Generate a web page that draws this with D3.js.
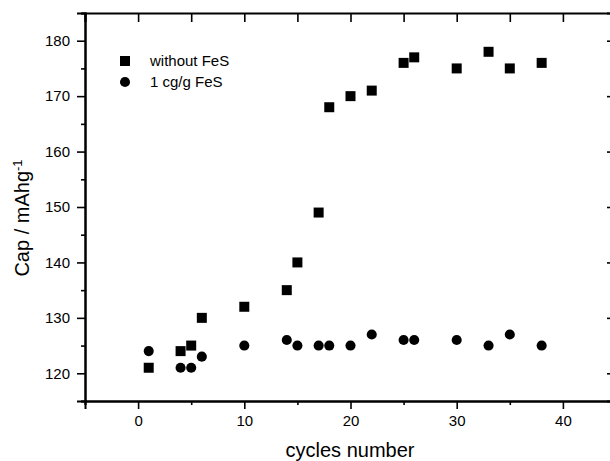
<!DOCTYPE html>
<html>
<head>
<meta charset="utf-8">
<script src="https://d3js.org/d3.v7.min.js"></script>
<style>
  body { margin: 0; background: #fff; }
  svg { display: block; font-family: "Liberation Sans", Arial, sans-serif; }
</style>
</head>
<body>
<script>
// cycles vs capacity
var cyclesNoFeS = [1, 4, 5, 6, 10, 14, 15, 17, 18, 20, 22, 25, 26, 30, 33, 35, 38];
var capNoFeS    = [121, 124, 125, 130, 132, 135, 140, 149, 168, 170, 171, 176, 177, 175, 178, 175, 176];

var cyclesFeS = [1, 4, 5, 6, 10, 14, 15, 17, 18, 20, 22, 25, 26, 30, 33, 35, 38];
var capFeS    = [124, 121, 121, 123, 125, 126, 125, 125, 125, 125, 127, 126, 126, 126, 125, 127, 125];

var legendLabels = ["without FeS", "1 cg/g FeS"];

var xMajor = [0, 10, 20, 30, 40];
var xMinor = [-5, 5, 15, 25, 35, 45];
var yMajor = [120, 130, 140, 150, 160, 170, 180];
var yMinor = [115, 125, 135, 145, 155, 165, 175, 185];

var width = 610, height = 461;

var svg = d3.select("body").append("svg")
    .attr("width", width)
    .attr("height", height);

var x = d3.scaleLinear().domain([-5, 45]).range([85, 616]);
var y = d3.scaleLinear().domain([115, 185]).range([401, 13]);

function styleAxis(g) {
    g.select(".domain").attr("stroke", "#000").attr("stroke-width", 2);
    g.selectAll(".tick line").attr("stroke", "#000").attr("stroke-width", 1.6);
    g.selectAll(".tick text").attr("font-size", 15).attr("fill", "#000")
        .attr("font-family", "'Liberation Sans', Arial, sans-serif");
}

// minor ticks first so domains draw on top
svg.append("g")
    .attr("transform", "translate(0," + y.range()[0] + ")")
    .call(d3.axisBottom(x).tickValues(xMinor).tickSize(4).tickFormat(""))
    .call(styleAxis);
svg.append("g")
    .attr("transform", "translate(" + x.range()[0] + ",0)")
    .call(d3.axisLeft(y).tickValues(yMinor).tickSize(4).tickFormat(""))
    .call(styleAxis);

svg.append("g")
    .attr("transform", "translate(0," + y.range()[0] + ")")
    .call(d3.axisBottom(x).tickValues(xMajor).tickSize(8).tickPadding(6).tickFormat(d3.format("d")))
    .call(styleAxis);
svg.append("g")
    .attr("transform", "translate(" + x.range()[0] + ",0)")
    .call(d3.axisLeft(y).tickValues(yMajor).tickSize(8).tickPadding(7).tickFormat(d3.format("d")))
    .call(styleAxis);

// top and right frame with inward ticks
svg.append("g")
    .attr("transform", "translate(0," + y.range()[1] + ")")
    .call(d3.axisTop(x).tickValues(xMajor.concat(xMinor)).tickSize(-9).tickFormat(""))
    .call(styleAxis);
svg.append("g")
    .attr("transform", "translate(" + x.range()[1] + ",0)")
    .call(d3.axisRight(y).tickValues(yMajor).tickSize(-9).tickFormat(""))
    .call(styleAxis);

var square = d3.symbol().type(d3.symbolSquare).size(100);
var circle = d3.symbol().type(d3.symbolCircle).size(80);

svg.append("g").selectAll("path")
    .data(d3.zip(cyclesNoFeS, capNoFeS))
    .enter().append("path")
    .attr("d", square)
    .attr("transform", function(d) { return "translate(" + x(d[0]) + "," + y(d[1]) + ")"; })
    .attr("fill", "#000");

svg.append("g").selectAll("path")
    .data(d3.zip(cyclesFeS, capFeS))
    .enter().append("path")
    .attr("d", circle)
    .attr("transform", function(d) { return "translate(" + x(d[0]) + "," + y(d[1]) + ")"; })
    .attr("fill", "#000");

// legend
var legend = svg.append("g").attr("transform", "translate(125,61)");
legend.append("path").attr("d", square).attr("fill", "#000");
legend.append("path").attr("d", circle).attr("fill", "#000").attr("transform", "translate(0,21)");
legend.selectAll("text")
    .data(legendLabels)
    .enter().append("text")
    .attr("x", 25)
    .attr("y", function(d, i) { return 5 + i * 21; })
    .attr("font-size", 15)
    .text(function(d) { return d; });

// axis titles
svg.append("text")
    .attr("x", 350)
    .attr("y", 457)
    .attr("text-anchor", "middle")
    .attr("font-size", 20)
    .text("cycles number");

var yt = svg.append("text")
    .attr("transform", "translate(29,218) rotate(-90)")
    .attr("text-anchor", "middle")
    .attr("font-size", 20);
yt.append("tspan").text("Cap / mAhg");
yt.append("tspan").attr("dy", -7).attr("font-size", 13).text("-1");
</script>
</body>
</html>
